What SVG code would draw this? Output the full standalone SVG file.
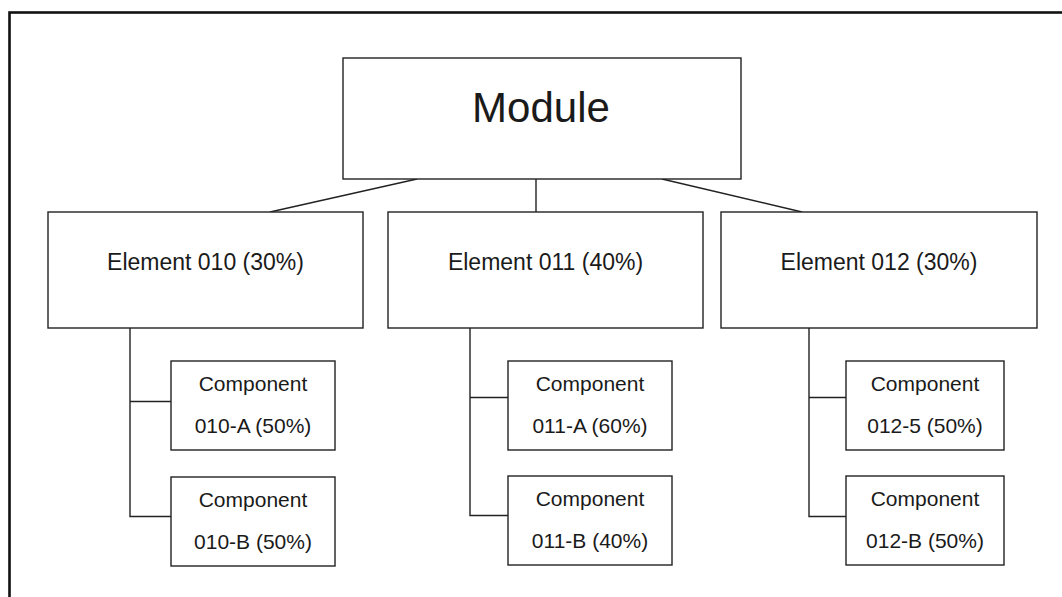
<svg xmlns="http://www.w3.org/2000/svg" width="1062" height="597" viewBox="0 0 1062 597">
<style>
.box{fill:#fff;stroke:#222;stroke-width:1.4}
.ln{fill:none;stroke:#222;stroke-width:1.4}
text{font-family:"Liberation Sans",Arial,sans-serif;fill:#1a1a1a;text-anchor:middle}
.t1{font-size:42px}
.t2{font-size:23px}
.t3{font-size:21px}
</style>
<rect x="0" y="0" width="1062" height="597" fill="#fff"/>
<rect x="9.5" y="12.5" width="1100" height="700" fill="none" stroke="#111" stroke-width="2.6"/>
<g id="connectors">
<line class="ln" x1="417" y1="179" x2="270" y2="212"/>
<line class="ln" x1="536" y1="179" x2="536" y2="212"/>
<line class="ln" x1="662" y1="179" x2="802" y2="212"/>
<polyline class="ln" points="130,328 130,516.5 171,516.5"/>
<line class="ln" x1="130" y1="401.5" x2="171" y2="401.5"/>
<polyline class="ln" points="470,328 470,515.5 508,515.5"/>
<line class="ln" x1="470" y1="397.5" x2="508" y2="397.5"/>
<polyline class="ln" points="809,328 809,516.5 846,516.5"/>
<line class="ln" x1="809" y1="397.5" x2="846" y2="397.5"/>
</g>
<g id="module"><rect class="box" x="343" y="58" width="398" height="121"/><text class="t1" x="541" y="122">Module</text></g>
<g id="el010"><rect class="box" x="48" y="212" width="315" height="116"/><text class="t2" x="205.5" y="270">Element 010 (30%)</text></g>
<g id="el011"><rect class="box" x="388" y="212" width="315" height="116"/><text class="t2" x="545.5" y="270">Element 011 (40%)</text></g>
<g id="el012"><rect class="box" x="721" y="212" width="316" height="116"/><text class="t2" x="879" y="270">Element 012 (30%)</text></g>
<g id="c010a"><rect class="box" x="171" y="361" width="164" height="89"/><text class="t3" x="253" y="391">Component</text><text class="t3" x="253" y="433">010-A (50%)</text></g>
<g id="c010b"><rect class="box" x="171" y="477" width="164" height="89"/><text class="t3" x="253" y="507">Component</text><text class="t3" x="253" y="549">010-B (50%)</text></g>
<g id="c011a"><rect class="box" x="508" y="361" width="164" height="89"/><text class="t3" x="590" y="391">Component</text><text class="t3" x="590" y="433">011-A (60%)</text></g>
<g id="c011b"><rect class="box" x="508" y="476" width="164" height="89"/><text class="t3" x="590" y="506">Component</text><text class="t3" x="590" y="548">011-B (40%)</text></g>
<g id="c012a"><rect class="box" x="846" y="361" width="158" height="89"/><text class="t3" x="925" y="391">Component</text><text class="t3" x="925" y="433">012-5 (50%)</text></g>
<g id="c012b"><rect class="box" x="846" y="476" width="158" height="89"/><text class="t3" x="925" y="506">Component</text><text class="t3" x="925" y="548">012-B (50%)</text></g>
</svg>
